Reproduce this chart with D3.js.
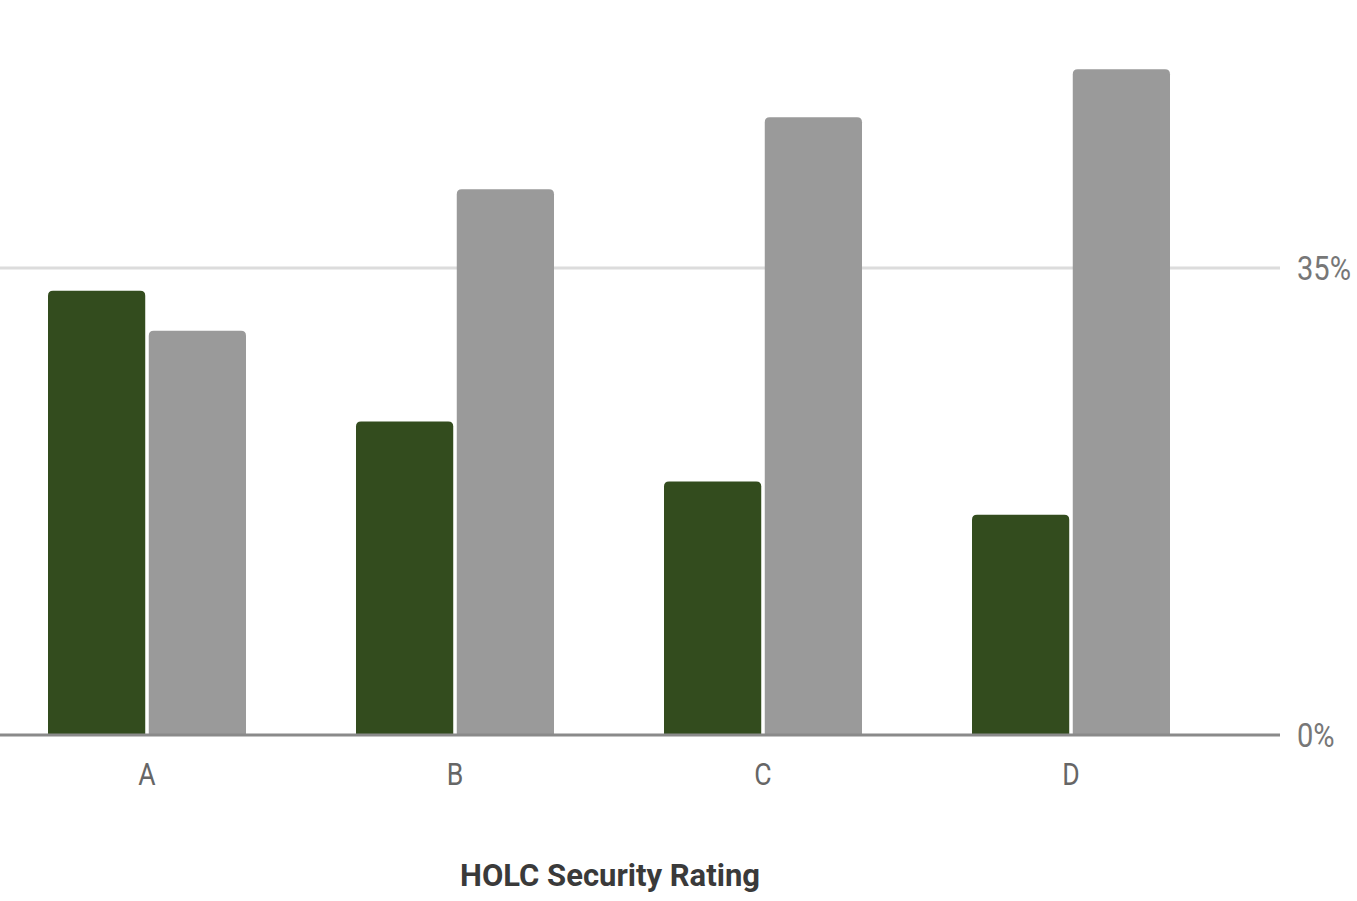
<!DOCTYPE html>
<html><head><meta charset="utf-8">
<script src="https://cdn.jsdelivr.net/npm/d3@7"></script>
<style>body{margin:0;background:#fff;}svg{display:block;}</style>
</head><body>
<svg id="chart" width="1357" height="901"></svg>
<script>
const categories = ["A", "B", "C", "D"];
const seriesNames = ["Series 1", "Series 2"];
const series1 = [33.3, 23.5, 19.0, 16.5];
const series2 = [30.3, 40.9, 46.3, 49.9];
const yTicks = [0, 35];
const xTitle = "HOLC Security Rating";
const colors = ["#334c1e", "#9a9a9a"];

const svg = d3.select("#chart");
const y = d3.scaleLinear().domain([0, 35]).range([735, 268]);
const x = d3.scaleBand().domain(categories).range([-7, 1225]).paddingInner(110/308).paddingOuter(55/308);
const x1 = d3.scaleBand().domain(seriesNames).range([0, x.bandwidth()]).paddingInner(0.035);

// gridline
svg.append("g").selectAll("line").data(yTicks.filter(d => d > 0)).join("line")
  .attr("x1", 0).attr("x2", 1280).attr("y1", d => y(d)).attr("y2", d => y(d))
  .attr("stroke", "#dcdcdc").attr("stroke-width", 3);

const data = categories.map((c, i) => ({c, vals: [series1[i], series2[i]]}));
const groups = svg.append("g").selectAll("g").data(data).join("g")
  .attr("transform", d => `translate(${x(d.c)},0)`);
groups.selectAll("path").data(d => d.vals.map((v, j) => ({v, j}))).join("path")
  .attr("fill", d => colors[d.j])
  .attr("d", d => {
    const x0 = x1(seriesNames[d.j]), w = x1.bandwidth(), top = y(d.v), bot = y(0), r = 5;
    return `M${x0},${bot}V${top + r}Q${x0},${top} ${x0 + r},${top}H${x0 + w - r}Q${x0 + w},${top} ${x0 + w},${top + r}V${bot}Z`;
  });

// baseline
svg.append("line").attr("x1", 0).attr("x2", 1280).attr("y1", y(0)).attr("y2", y(0))
  .attr("stroke", "#8a8a8a").attr("stroke-width", 3);

// right axis labels
const yAxis = d3.axisRight(y).tickValues(yTicks).tickSize(0).tickFormat(d => d + "%");
const ya = svg.append("g").attr("transform", "translate(1297,0)").call(yAxis);
ya.select(".domain").remove();
ya.selectAll("text").attr("x", 0).attr("dy", "0.35em").attr("font-family", "Roboto").attr("font-size", 30)
  .attr("fill", "#777").attr("transform", "scale(0.97,1.12)");

// x axis labels
const xAxis = d3.axisBottom(x).tickSize(0);
const xa = svg.append("g").attr("transform", `translate(0,${y(0)})`).call(xAxis);
xa.select(".domain").remove();
xa.selectAll("text").attr("y", 0).attr("dy", "0").attr("font-family", "Roboto").attr("font-size", 28)
  .attr("fill", "#666").attr("transform", "translate(0,50) scale(0.95,1.12)");

svg.append("text").attr("x", 610).attr("y", 886).attr("text-anchor", "middle")
  .attr("font-family", "Roboto").attr("font-weight", "bold").attr("font-size", 31)
  .attr("fill", "#3a3a3a").text(xTitle);
</script>
</body></html>
